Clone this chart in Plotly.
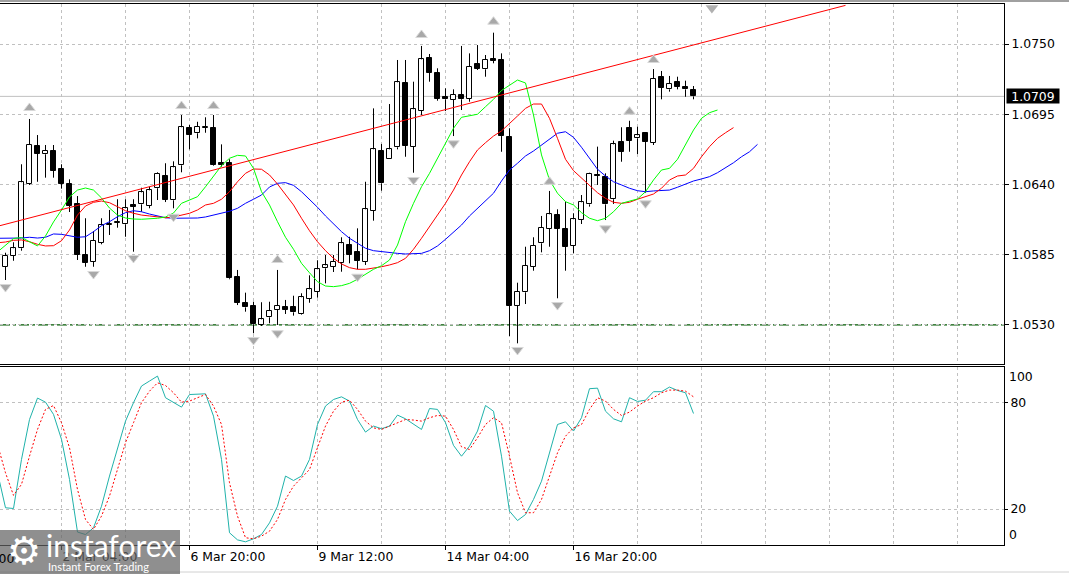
import plotly.graph_objects as go

# ---------------- data (EURUSD H4) ----------------
date_labels = ["2 Mar 04:00", "6 Mar 20:00", "9 Mar 12:00", "14 Mar 04:00", "16 Mar 20:00"]
date_label_bars = [7, 23, 39, 55, 71]
cut_label = "27 Feb 12:00"

open_ = [1.05755, 1.05842, 1.05900, 1.06406, 1.06701, 1.06636, 1.06662, 1.06521, 1.06403, 1.06247,
         1.05847, 1.05795, 1.05943, 1.06084, 1.06098, 1.06088, 1.06239, 1.06244, 1.06233, 1.06370,
         1.06464, 1.06276, 1.06550, 1.06840, 1.06801, 1.06846, 1.06840, 1.06566, 1.06566, 1.05672,
         1.05469, 1.05448, 1.05299, 1.05359, 1.05416, 1.05440, 1.05437, 1.05385, 1.05505, 1.05560,
         1.05743, 1.05755, 1.05787, 1.05923, 1.05868, 1.05795, 1.06194, 1.06664, 1.06597, 1.06691,
         1.07192, 1.06696, 1.06978, 1.07388, 1.07271, 1.07087, 1.07062, 1.07098, 1.07072, 1.07344,
         1.07302, 1.07379, 1.07373, 1.06769, 1.05448, 1.05555, 1.05755, 1.05939, 1.06053, 1.06160,
         1.06048, 1.05918, 1.06121, 1.06244, 1.06472, 1.06456, 1.06284, 1.06730, 1.06842, 1.06761,
         1.06801, 1.06727, 1.07239, 1.07145, 1.07203, 1.07161, 1.07140]
high = [1.05865, 1.05947, 1.06558, 1.06913, 1.06787, 1.06709, 1.06709, 1.06558, 1.06440, 1.06309,
        1.06135, 1.06035, 1.06135, 1.06200, 1.06284, 1.06284, 1.06284, 1.06374, 1.06382, 1.06495,
        1.06566, 1.06581, 1.06944, 1.06866, 1.06891, 1.06926, 1.06944, 1.06714, 1.06597, 1.05730,
        1.05552, 1.05481, 1.05477, 1.05481, 1.05730, 1.05495, 1.05528, 1.05547, 1.05688, 1.05806,
        1.05847, 1.05847, 1.05986, 1.05990, 1.06056, 1.06421, 1.06996, 1.06717, 1.07030, 1.07375,
        1.07375, 1.07205, 1.07485, 1.07422, 1.07310, 1.07153, 1.07145, 1.07485, 1.07427, 1.07492,
        1.07414, 1.07589, 1.07427, 1.06840, 1.05630, 1.05912, 1.05986, 1.06153, 1.06349, 1.06205,
        1.06265, 1.06174, 1.06317, 1.06492, 1.06696, 1.06487, 1.06743, 1.06848, 1.06899, 1.06852,
        1.06808, 1.07304, 1.07289, 1.07250, 1.07244, 1.07213, 1.07171]
low = [1.05651, 1.05802, 1.05881, 1.06396, 1.06421, 1.06453, 1.06453, 1.06367, 1.06184, 1.05808,
       1.05755, 1.05755, 1.05931, 1.06004, 1.06061, 1.05990, 1.05873, 1.06186, 1.06213, 1.06278,
       1.06262, 1.06213, 1.06495, 1.06675, 1.06761, 1.06805, 1.06547, 1.06539, 1.05657, 1.05455,
       1.05403, 1.05234, 1.05291, 1.05312, 1.05299, 1.05385, 1.05372, 1.05380, 1.05473, 1.05513,
       1.05625, 1.05714, 1.05716, 1.05782, 1.05735, 1.05769, 1.06116, 1.06351, 1.06597, 1.06675,
       1.06617, 1.06492, 1.06944, 1.07205, 1.07056, 1.06975, 1.06779, 1.06983, 1.07048, 1.07297,
       1.07244, 1.07349, 1.06656, 1.05212, 1.05155, 1.05463, 1.05724, 1.05868, 1.05912, 1.05508,
       1.05724, 1.05860, 1.06090, 1.06226, 1.06396, 1.06121, 1.06247, 1.06578, 1.06656, 1.06638,
       1.06335, 1.06709, 1.07067, 1.07127, 1.07145, 1.07087, 1.07067]
close = [1.05839, 1.05900, 1.06417, 1.06709, 1.06641, 1.06664, 1.06508, 1.06406, 1.06233, 1.05847,
         1.05787, 1.05957, 1.06080, 1.06092, 1.06102, 1.06213, 1.06223, 1.06338, 1.06354, 1.06482,
         1.06278, 1.06534, 1.06848, 1.06787, 1.06852, 1.06852, 1.06555, 1.06555, 1.05665, 1.05473,
         1.05437, 1.05304, 1.05343, 1.05408, 1.05448, 1.05419, 1.05398, 1.05516, 1.05578, 1.05735,
         1.05766, 1.05795, 1.05939, 1.05849, 1.05802, 1.06205, 1.06675, 1.06409, 1.06675, 1.07200,
         1.06703, 1.06989, 1.07380, 1.07275, 1.07072, 1.07067, 1.07103, 1.07067, 1.07322, 1.07307,
         1.07375, 1.07367, 1.06779, 1.05448, 1.05560, 1.05763, 1.05920, 1.06061, 1.06166, 1.06053,
         1.05912, 1.06127, 1.06260, 1.06482, 1.06467, 1.06244, 1.06714, 1.06656, 1.06743, 1.06785,
         1.06735, 1.07228, 1.07158, 1.07189, 1.07166, 1.07145, 1.07090]

# Alligator lines (values at bar positions, first value at bar -1, shifted lines run past the last bar)
lips_green = [1.05871, 1.05925, 1.05976, 1.05984, 1.05949, 1.05918, 1.05996, 1.06106, 1.06200, 1.06302,
              1.06356, 1.06372, 1.06356, 1.06294, 1.06215, 1.06160, 1.06137, 1.06129, 1.06127, 1.06129,
              1.06135, 1.06145, 1.06176, 1.06252, 1.06278, 1.06304, 1.06382, 1.06468, 1.06547, 1.06605,
              1.06628, 1.06623, 1.06526, 1.06343, 1.06239, 1.06108, 1.05986, 1.05892, 1.05782, 1.05708,
              1.05638, 1.05604, 1.05599, 1.05607, 1.05625, 1.05657, 1.05698, 1.05735, 1.05763, 1.05808,
              1.05925, 1.06108, 1.06252, 1.06382, 1.06487, 1.06605, 1.06722, 1.06840, 1.06926, 1.06936,
              1.06950, 1.07009, 1.07067, 1.07136, 1.07179, 1.07218, 1.07195, 1.06944, 1.06631, 1.06435,
              1.06331, 1.06265, 1.06239, 1.06179, 1.06135, 1.06116, 1.06135, 1.06186, 1.06252, 1.06270,
              1.06286, 1.06343, 1.06435, 1.06513, 1.06526, 1.06597, 1.06709, 1.06826, 1.06918, 1.06962,
              1.06983]
teeth_red = [1.05943, 1.05949, 1.05962, 1.05965, 1.05951, 1.05931, 1.05918, 1.05920, 1.05959, 1.06043,
             1.06160, 1.06231, 1.06260, 1.06270, 1.06257, 1.06225, 1.06194, 1.06174, 1.06160, 1.06153,
             1.06145, 1.06139, 1.06145, 1.06158, 1.06174, 1.06200, 1.06239, 1.06252, 1.06284, 1.06343,
             1.06421, 1.06487, 1.06521, 1.06519, 1.06474, 1.06403, 1.06325, 1.06239, 1.06135, 1.06037,
             1.05951, 1.05881, 1.05821, 1.05777, 1.05748, 1.05735, 1.05735, 1.05743, 1.05755, 1.05769,
             1.05787, 1.05821, 1.05892, 1.05978, 1.06069, 1.06160, 1.06252, 1.06356, 1.06474, 1.06578,
             1.06670, 1.06727, 1.06779, 1.06819, 1.06874, 1.06936, 1.06996, 1.07030, 1.07030, 1.06918,
             1.06761, 1.06597, 1.06508, 1.06448, 1.06388, 1.06335, 1.06291, 1.06260, 1.06252, 1.06260,
             1.06284, 1.06304, 1.06325, 1.06370, 1.06435, 1.06466, 1.06474, 1.06526, 1.06617, 1.06696,
             1.06761, 1.06805, 1.06845]
jaw_blue = [1.05978, 1.05978, 1.05978, 1.05980, 1.05986, 1.05980, 1.05986, 1.06012, 1.06009, 1.05996,
            1.05986, 1.05990, 1.06030, 1.06077, 1.06108, 1.06147, 1.06179, 1.06194, 1.06186, 1.06168,
            1.06153, 1.06139, 1.06135, 1.06135, 1.06135, 1.06137, 1.06145, 1.06158, 1.06174, 1.06190,
            1.06213, 1.06252, 1.06284, 1.06317, 1.06380, 1.06409, 1.06414, 1.06393, 1.06343, 1.06284,
            1.06221, 1.06153, 1.06090, 1.06030, 1.05978, 1.05939, 1.05900, 1.05881, 1.05873, 1.05865,
            1.05860, 1.05855, 1.05855, 1.05860, 1.05881, 1.05918, 1.05970, 1.06030, 1.06082, 1.06153,
            1.06213, 1.06270, 1.06331, 1.06427, 1.06513, 1.06566, 1.06623, 1.06662, 1.06709, 1.06761,
            1.06801, 1.06813, 1.06769, 1.06691, 1.06605, 1.06519, 1.06466, 1.06421, 1.06396, 1.06370,
            1.06351, 1.06343, 1.06349, 1.06354, 1.06356, 1.06378, 1.06401, 1.06427, 1.06443, 1.06461,
            1.06492, 1.06531, 1.06570, 1.06617, 1.06656, 1.06714]

# Stochastic (first value at bar -1)
stoch_main = [40.6, 20.7, 20.3, 48.0, 70.5, 82.6, 80.3, 73.4, 59.3, 36.7,
              7.0, 5.6, 9.4, 21.6, 38.6, 53.6, 69.6, 80.0, 89.4, 92.2,
              95.0, 82.8, 80.3, 77.5, 84.6, 85.0, 85.0, 72.4, 48.0, 6.6,
              2.6, 1.5, 3.2, 5.6, 12.2, 21.6, 38.6, 36.1, 38.6, 48.0,
              67.7, 78.1, 81.8, 83.3, 80.9, 70.5, 63.4, 66.8, 65.3, 66.8,
              73.0, 70.9, 68.1, 64.9, 76.7, 76.2, 68.7, 55.9, 49.8, 55.5,
              64.0, 78.4, 75.2, 49.8, 18.8, 13.5, 16.9, 25.4, 35.7, 51.7,
              67.7, 69.2, 64.0, 71.5, 87.9, 88.2, 75.2, 70.9, 69.2, 82.8,
              80.7, 81.4, 86.2, 86.2, 88.8, 86.9, 85.6, 73.9]
stoch_signal = [56.4, 40.4, 27.7, 33.9, 49.8, 64.9, 76.2, 78.4, 68.7, 54.6,
                31.0, 14.1, 8.5, 16.0, 27.3, 42.3, 57.4, 68.7, 80.0, 86.5,
                91.2, 89.7, 85.6, 80.3, 80.9, 82.8, 84.6, 78.1, 67.7, 34.8,
                16.0, 3.8, 3.2, 4.7, 7.5, 14.1, 25.4, 32.9, 37.6, 42.3,
                54.6, 66.8, 75.2, 80.3, 81.4, 76.2, 69.6, 65.8, 64.9, 66.8,
                68.7, 70.5, 70.2, 69.6, 71.5, 72.8, 72.4, 64.9, 55.1, 53.6,
                60.2, 67.7, 71.5, 68.7, 49.8, 29.2, 17.9, 17.9, 25.4, 38.6,
                51.7, 61.1, 65.8, 67.7, 76.2, 82.8, 80.9, 76.2, 72.8, 74.7,
                78.1, 80.9, 82.8, 85.6, 87.1, 87.1, 86.5, 83.3]

fractal_up_bars = [3, 22, 26, 34, 52, 61, 68, 78, 81]
fractal_up_price = [1.06999, 1.07014, 1.07014, 1.05808, 1.07571, 1.07675, 1.06421, 1.06970, 1.07375]
fractal_dn_bars = [0, 11, 16, 21, 31, 34, 44, 51, 56, 64, 69, 75, 80]
fractal_dn_price = [1.05596, 1.05698, 1.05824, 1.06147, 1.05181, 1.05234, 1.05677, 1.06435, 1.06722,
                    1.05103, 1.05455, 1.06056, 1.06252]
shift_marker_bar = [88.3]
shift_marker_price = [1.07782]

trend_bars = [-1, 105]
trend_price = [1.06072, 1.07803]
support_level = 1.0530
last_price = 1.0709
price_ticks = [1.0530, 1.0585, 1.0640, 1.0695, 1.0750]
stoch_levels = [20, 80]

# ---------------- figure ----------------
FONT = "DejaVu Sans"
FS = 12.4
W, H = 1069, 574
ML, MR, MT, MB = 0, 65, 4, 29
PLOT_H = H - MT - MB


def py(pix):  # pixel row -> paper y (decorations only)
    return (H - MB - pix) / PLOT_H


def px(pix):
    return pix / (W - ML - MR)


x_range = [-0.6875, 124.8125]
n = len(close)
bars = list(range(n))

fig = go.Figure()

# wicks (split so hollow bodies stay hollow)
wx, wy = [], []
for i in bars:
    top = max(open_[i], close[i])
    bot = min(open_[i], close[i])
    wx += [i, i, None, i, i, None]
    wy += [high[i], top, None, bot, low[i], None]
fig.add_trace(go.Scatter(x=wx, y=wy, mode="lines", line=dict(color="black", width=1),
                         xaxis="x", yaxis="y", hoverinfo="skip"))

body_base = [min(o, c) for o, c in zip(open_, close)]
body_h = [max(abs(c - o), 0.00002) for o, c in zip(open_, close)]
body_col = ["white" if c >= o else "black" for o, c in zip(open_, close)]
fig.add_trace(go.Bar(x=bars, y=body_h, base=body_base, width=0.55,
                     marker=dict(color=body_col, line=dict(color="black", width=1)),
                     xaxis="x", yaxis="y", hoverinfo="skip"))


def xs(arr):
    return list(range(-1, -1 + len(arr)))


fig.add_trace(go.Scatter(x=xs(jaw_blue), y=jaw_blue, mode="lines",
                         line=dict(color="#0000ff", width=1), xaxis="x", yaxis="y"))
fig.add_trace(go.Scatter(x=xs(teeth_red), y=teeth_red, mode="lines",
                         line=dict(color="#ff0000", width=1), xaxis="x", yaxis="y"))
fig.add_trace(go.Scatter(x=xs(lips_green), y=lips_green, mode="lines",
                         line=dict(color="#00ff00", width=1), xaxis="x", yaxis="y"))

fig.add_trace(go.Scatter(x=trend_bars, y=trend_price, mode="lines",
                         line=dict(color="#ff0000", width=1), xaxis="x", yaxis="y"))

fig.add_trace(go.Scatter(x=fractal_up_bars, y=fractal_up_price, mode="markers",
                         marker=dict(symbol="triangle-up", size=10, color="#a8a8a8",
                                     line=dict(color="#d8d8d8", width=1)),
                         xaxis="x", yaxis="y"))
fig.add_trace(go.Scatter(x=fractal_dn_bars, y=fractal_dn_price, mode="markers",
                         marker=dict(symbol="triangle-down", size=10, color="#a8a8a8",
                                     line=dict(color="#d8d8d8", width=1)),
                         xaxis="x", yaxis="y"))
fig.add_trace(go.Scatter(x=shift_marker_bar, y=shift_marker_price, mode="markers",
                         marker=dict(symbol="triangle-down", size=11, color="#b0b0b0"),
                         xaxis="x", yaxis="y", cliponaxis=False))

# stochastic
fig.add_trace(go.Scatter(x=xs(stoch_main), y=stoch_main, mode="lines",
                         line=dict(color="#20b2aa", width=1), xaxis="x2", yaxis="y2"))
fig.add_trace(go.Scatter(x=xs(stoch_signal), y=stoch_signal, mode="lines",
                         line=dict(color="#ff0000", width=1, dash="2px,2px"), xaxis="x2", yaxis="y2"))

grid = dict(showgrid=True, gridcolor="#c0c0c0", gridwidth=1, griddash="3px,3px")

main_bottom = py(364)
stoch_top = py(366.7)

fig.update_layout(
    width=W, height=H,
    margin=dict(l=ML, r=MR, t=MT, b=MB, autoexpand=False),
    paper_bgcolor="white", plot_bgcolor="white",
    showlegend=False, hovermode=False, bargap=0,
    font=dict(family=FONT, size=FS, color="black"),
    xaxis=dict(domain=[0, 1], anchor="y", range=x_range, tickmode="linear", tick0=7, dtick=8,
               showticklabels=False, ticks="", zeroline=False,
               showline=True, linecolor="black", linewidth=1, mirror=True, **grid),
    yaxis=dict(domain=[main_bottom, 1], anchor="x", side="right", range=[1.049931, 1.078137],
               tickmode="array", tickvals=price_ticks, tickformat=".4f",
               ticks="outside", ticklen=4, tickcolor="black", zeroline=False,
               showline=True, linecolor="black", linewidth=1, mirror=False,
               tickfont=dict(family=FONT, size=FS, color="black"), **grid),
    xaxis2=dict(domain=[0, 1], anchor="y2", range=x_range, tickmode="array",
                tickvals=date_label_bars, ticktext=date_labels, ticklabelposition="outside right",
                ticks="outside", ticklen=4, tickcolor="black", zeroline=False,
                showline=True, linecolor="black", linewidth=1, mirror=True,
                tickfont=dict(family=FONT, size=FS, color="black"),
                minor=dict(tickmode="linear", tick0=7, dtick=8, showgrid=True,
                           gridcolor="#c0c0c0", griddash="3px,3px", ticks=""),
                **grid),
    yaxis2=dict(domain=[0, stoch_top], anchor="x2", side="right", range=[-0.3, 100.3],
                tickmode="array", tickvals=stoch_levels, ticks="outside", ticklen=3,
                tickcolor="black", zeroline=False,
                showline=True, linecolor="black", linewidth=1, mirror=False,
                tickfont=dict(family=FONT, size=FS, color="black"), **grid),
)

# horizontal levels
fig.add_shape(type="line", xref="paper", x0=0, x1=1, yref="y", y0=support_level, y1=support_level,
              line=dict(color="#005a00", width=1.2, dash="10px,3px,3px,3px"), layer="between")
fig.add_shape(type="line", xref="paper", x0=0, x1=1, yref="y", y0=last_price, y1=last_price,
              line=dict(color="#c0c0c0", width=1), layer="between")

# current price tag
fig.add_annotation(xref="paper", x=1, xanchor="left", xshift=2, yref="y", y=last_price,
                   yanchor="middle", text=f"{last_price:.4f}", showarrow=False,
                   bgcolor="black", font=dict(family=FONT, size=FS, color="white"),
                   width=52, height=14, borderpad=0)

# stochastic 100 / 0 labels
fig.add_annotation(xref="paper", x=1, xanchor="left", xshift=3, yref="y2", y=100, yanchor="top",
                   text="100", showarrow=False, font=dict(family=FONT, size=FS, color="black"))
fig.add_annotation(xref="paper", x=1, xanchor="left", xshift=3, yref="y2", y=0, yanchor="bottom",
                   text="0", showarrow=False, font=dict(family=FONT, size=FS, color="black"))

# cut-off first date label
fig.add_annotation(xref="x2", x=x_range[0], xanchor="right", xshift=16, yref="paper", y=py(549),
                   yanchor="top", text=cut_label, showarrow=False,
                   font=dict(family=FONT, size=FS, color="black"))

# window frame
fig.add_shape(type="rect", xref="paper", x0=0, x1=px(1069), yref="paper", y0=py(2), y1=py(0),
              fillcolor="#a0a0a0", line=dict(width=0), layer="above")
fig.add_shape(type="line", xref="paper", x0=0, x1=px(1069), yref="paper", y0=py(572), y1=py(572),
              line=dict(color="#d0d0d0", width=1), layer="above")

# instaforex logo box (semi-transparent, axis text shows through)
fig.add_shape(type="rect", xref="paper", x0=0, x1=px(180), yref="paper", y0=py(574), y1=py(530),
              fillcolor="rgba(100,100,100,0.72)", line=dict(width=0), layer="above")
fig.add_annotation(xref="paper", x=px(5), xanchor="left", yref="paper", y=py(551), yanchor="middle",
                   text="\u2699", showarrow=False, font=dict(family="DejaVu Sans", size=38, color="white"))
fig.add_annotation(xref="paper", x=px(44), xanchor="left", yref="paper", y=py(545), yanchor="middle",
                   text="instaforex", showarrow=False, font=dict(family="Lato", size=30, color="white"))
fig.add_annotation(xref="paper", x=px(46), xanchor="left", yref="paper", y=py(566), yanchor="middle",
                   text="Instant Forex Trading", showarrow=False,
                   font=dict(family="Lato", size=11, color="white"))

fig.write_html("out.html")
